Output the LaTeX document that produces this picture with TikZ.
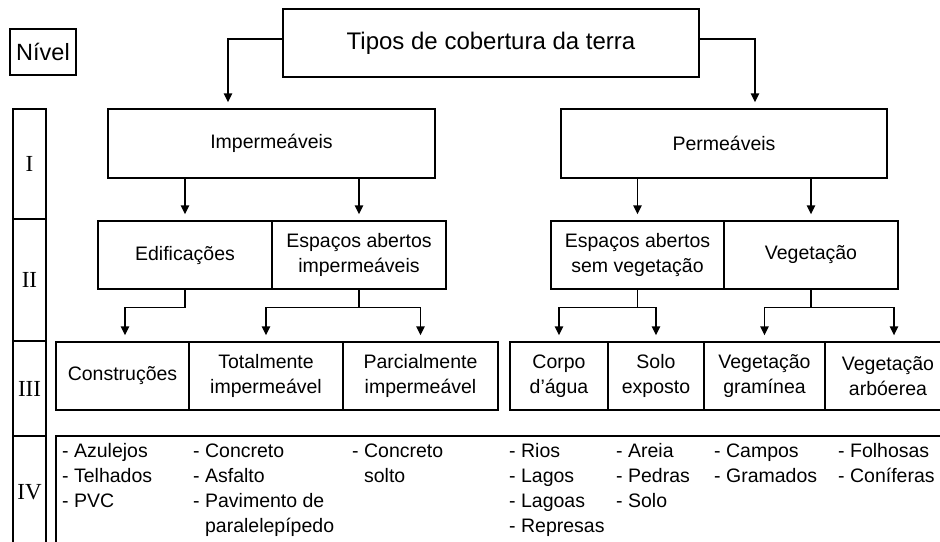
\documentclass[tikz,border=0pt]{standalone}
\usepackage{fontspec}
\setmainfont{Liberation Sans}
\newfontfamily\romfont{Liberation Serif}
\usetikzlibrary{arrows.meta,calc}
\begin{document}
\begin{tikzpicture}[x=1pt,y=-1pt,
  lw/.style={line width=1.4pt},
  box/.style={draw,lw,inner sep=0pt,align=center,font=\fontsize{19.5}{25}\selectfont},
  arr/.style={lw,-{Triangle[length=9pt,width=8.5pt]},shorten >=6pt},
  lvl/.style={draw,lw,inner sep=0pt,minimum width=33pt,font=\romfont\fontsize{23}{25}\selectfont},
  item/.style={anchor=north west,inner sep=0pt,align=left,font=\fontsize{19.5}{25}\selectfont}]
\useasboundingbox (0,0) rectangle (940,541);
\clip (0,0) rectangle (940,541);

% level column
\node[box,minimum width=66pt,minimum height=46pt,font=\fontsize{23.5}{28}\selectfont] (nivel) at (43,52) {Nível};
\node[lvl,minimum height=110pt] (lvI) at (29.5,164) {I};
\node[lvl,minimum height=122pt] (lvII) at (29.5,280) {II};
\node[lvl,minimum height=95pt] (lvIII) at (29.5,388.5) {III};
\node[lvl,minimum height=112pt] (lvIV) at (29.5,492) {IV};

% top
\node[box,minimum width=416pt,minimum height=68pt,font=\fontsize{24}{28}\selectfont] (top) at (491,43) {Tipos de cobertura da terra};

% level I
\node[box,minimum width=327pt,minimum height=69pt] (imp) at (271.5,143.5) {Impermeáveis};
\node[box,minimum width=326pt,minimum height=69pt] (perm) at (724,143.5) {Permeáveis};

% level II
\node[box,minimum width=174pt,minimum height=68pt] (edif) at (185,255) {Edificações};
\node[box,minimum width=174pt,minimum height=68pt] (espimp) at (359,255) {Espaços abertos\\impermeáveis};
\node[box,minimum width=173pt,minimum height=68pt] (espsem) at (637.5,255) {Espaços abertos\\sem vegetação};
\node[box,minimum width=174pt,minimum height=68pt] (veg) at (811,255) {Vegetação};

% level III
\node[box,minimum width=133pt,minimum height=68pt] (constr) at (122.5,376) {Construções};
\node[box,minimum width=154pt,minimum height=68pt] (total) at (266,376) {Totalmente\\impermeável};
\node[box,minimum width=155pt,minimum height=68pt] (parc) at (420.5,376) {Parcialmente\\impermeável};
\node[box,minimum width=98pt,minimum height=68pt] (corpo) at (559,376) {Corpo\\d’água};
\node[box,minimum width=96pt,minimum height=68pt] (solo) at (656,376) {Solo\\exposto};
\node[box,minimum width=121pt,minimum height=68pt] (vgram) at (764.5,376) {Vegetação\\gramínea};
\node[box,minimum width=126pt,minimum height=68pt] (varb) at (888,376) {Vegetação\\arbóerea};

% level IV box
\draw[lw] (56,436) rectangle (980,580);
\node[item] (l1) at (62,439.5) {\strut- Azulejos\\- Telhados\\- PVC};
\node[item] (l2) at (193,439.5) {\strut- Concreto\\- Asfalto\\- Pavimento de\\\phantom{- }paralelepípedo};
\node[item] (l3) at (352,439.5) {\strut- Concreto\\\phantom{- }solto};
\node[item] (l4) at (509,439.5) {\strut- Rios\\- Lagos\\- Lagoas\\- Represas};
\node[item] (l5) at (616,439.5) {\strut- Areia\\- Pedras\\- Solo};
\node[item] (l6) at (714,439.5) {\strut- Campos\\- Gramados};
\node[item] (l7) at (838,439.5) {\strut- Folhosas\\- Coníferas};

% connectors
\draw[arr] ([yshift=4pt]top.west) -| ([xshift=-43.5pt]imp.north);
\draw[arr] ([yshift=4pt]top.east) -| ([xshift=31pt]perm.north);
\draw[arr] (imp.south -| edif.north) -- (edif.north);
\draw[arr] (imp.south -| espimp.north) -- (espimp.north);
\draw[arr] (perm.south -| espsem.north) -- (espsem.north);
\draw[arr] (perm.south -| veg.north) -- (veg.north);
\draw[arr] (edif.south) -- ++(0,18) -| ([xshift=2.5pt]constr.north);
\draw[lw] (espimp.south) -- ++(0,18) coordinate (f1);
\draw[arr] (f1) -| (total.north);
\draw[arr] (f1) -| (parc.north);
\draw[lw] (espsem.south) -- ++(0,18) coordinate (f2);
\draw[arr] (f2) -| (corpo.north);
\draw[arr] (f2) -| (solo.north);
\draw[lw] (veg.south) -- ++(0,18) coordinate (f3);
\draw[arr] (f3) -| (vgram.north);
\draw[arr] (f3) -| ([xshift=6pt]varb.north);
\end{tikzpicture}
\end{document}
